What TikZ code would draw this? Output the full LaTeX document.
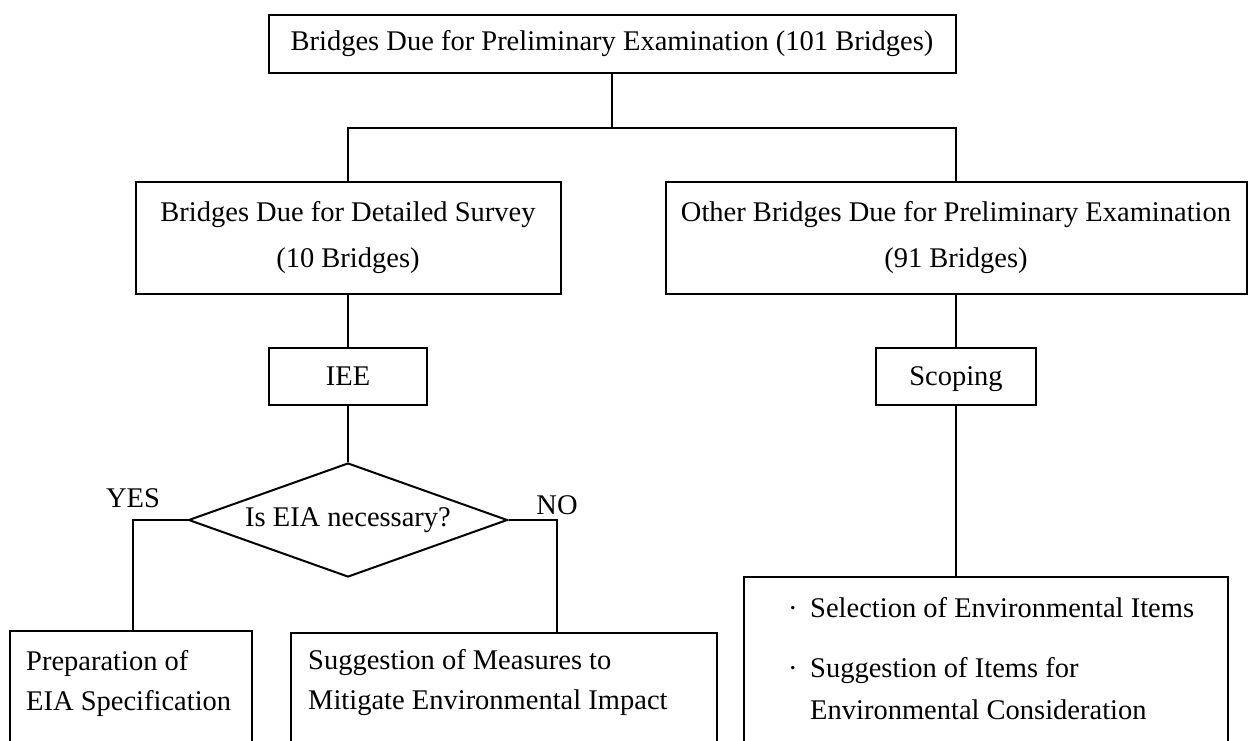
\documentclass[tikz,border=0pt]{standalone}
\usepackage{fontspec}
\setmainfont{Liberation Serif}
\usetikzlibrary{shapes.geometric}
\begin{document}
\begin{tikzpicture}[x=1pt,y=-1pt,
  every node/.style={font=\fontsize{28.5}{46}\selectfont},
  box/.style={draw, line width=2pt, inner sep=0pt, align=center},
  link/.style={line width=2.4pt},
  lbl/.style={inner sep=0pt, align=left, anchor=west}]
\useasboundingbox (0,0) rectangle (1260,740);
\clip (0,0) rectangle (1260,740);

% upper levels
\node[box, minimum width=687pt, minimum height=58pt] (top) at (612,44)
  {Bridges Due for Preliminary Examination (101 Bridges)};
\node[box, minimum width=425pt, minimum height=112pt] (survey) at (348,238)
  {Bridges Due for Detailed Survey\\(10 Bridges)};
\node[box, minimum width=581pt, minimum height=112pt] (other) at (956,238)
  {Other Bridges Due for Preliminary Examination\\(91 Bridges)};
\node[box, minimum width=158pt, minimum height=57pt] (iee) at (348,376.5) {\strut IEE};
\node[box, minimum width=160pt, minimum height=57pt] (scoping) at (956,376.5) {\strut Scoping};

% decision
\node[draw, diamond, line width=2pt, inner sep=0pt, aspect=2.8,
      minimum width=319pt, minimum height=114pt] (eia) at (348,520) {Is EIA necessary?};
\node (yes) at (133,498) {YES};
\node (no) at (557,505) {NO};

% outcome boxes (running off the lower edge)
\node[box, minimum width=242pt, minimum height=135pt, anchor=north] (prep) at (131,630) {};
\node[box, minimum width=426pt, minimum height=135pt, anchor=north] (mitig) at (504,632) {};
\node[box, minimum width=484pt, minimum height=190pt, anchor=north] (items) at (986,576) {};

\node[lbl, font=\fontsize{28.5}{40}\selectfont] (preptext) at (26,683)
  {Preparation of\\EIA Specification};
\node[lbl, font=\fontsize{28.5}{40}\selectfont] (mitigtext) at (308,683)
  {Suggestion of Measures to\\Mitigate Environmental Impact};
\node[lbl, font=\fontsize{28.5}{42}\selectfont] (itemstext) at (788,659)
  {\makebox[22pt][l]{\textperiodcentered}Selection of Environmental Items\\[18pt]
   \makebox[22pt][l]{\textperiodcentered}Suggestion of Items for\\
   \hspace*{22pt}Environmental Consideration};

% connectors
\coordinate (bus) at (top.south |- 0,128);
\draw[link] (top.south) -- (bus);
\draw[link] (survey.north) |- (bus) -| (other.north);
\draw[link] (survey.south) -- (iee.north);
\draw[link] (other.south) -- (scoping.north);
\draw[link] (iee.south) -- (eia.north);
\draw[link] (eia.west) -| (prep.north -| yes);
\draw[link] (eia.east) -| (mitig.north -| no);
\draw[link] (scoping.south) -- (scoping.south |- items.north);
\end{tikzpicture}
\end{document}
